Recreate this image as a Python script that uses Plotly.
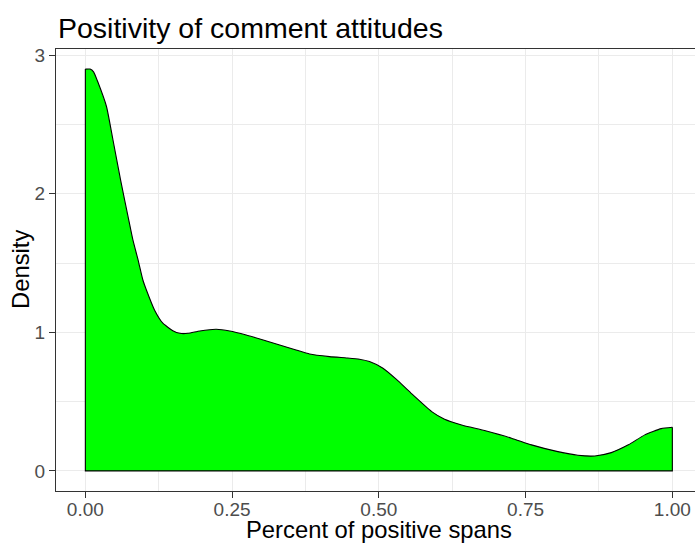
import plotly.graph_objects as go

# Density estimate of "percent of positive spans"
x_vals = [0.0, 0.008, 0.014, 0.021, 0.036, 0.047, 0.06, 0.074, 0.081, 0.09, 0.098, 0.104,
          0.118, 0.132, 0.149, 0.161, 0.175, 0.195, 0.223, 0.246, 0.274, 0.303, 0.331,
          0.359, 0.382, 0.416, 0.445, 0.467, 0.484, 0.507, 0.53, 0.555, 0.59, 0.612,
          0.641, 0.68, 0.726, 0.76, 0.805, 0.839, 0.868, 0.896, 0.925, 0.953, 0.981, 1.0]
density_vals = [2.9, 2.9, 2.88, 2.81, 2.63, 2.39, 2.10, 1.81, 1.667, 1.52, 1.378, 1.306,
                1.16, 1.066, 1.012, 0.993, 0.993, 1.01, 1.022, 1.01, 0.981, 0.945, 0.909,
                0.873, 0.844, 0.825, 0.815, 0.806, 0.789, 0.741, 0.66, 0.56, 0.428, 0.373,
                0.332, 0.291, 0.236, 0.188, 0.139, 0.113, 0.108, 0.132, 0.188, 0.26, 0.305, 0.315]

x_ticks = [0.0, 0.25, 0.5, 0.75, 1.0]
x_tick_labels = ["0.00", "0.25", "0.50", "0.75", "1.00"]
y_ticks = [0, 1, 2, 3]
y_tick_labels = ["0", "1", "2", "3"]

title_text = "Positivity of comment attitudes"
x_title = "Percent of positive spans"
y_title = "Density"

FONT = "Liberation Sans, Arial, sans-serif"

fig = go.Figure()
# filled density curve (smoothed)
fig.add_trace(go.Scatter(
    x=x_vals, y=density_vals, mode="lines", fill="tozeroy",
    fillcolor="#00FF00",
    line=dict(color="#000000", width=1.1, shape="spline", smoothing=0.5),
    hoverinfo="skip", showlegend=False,
))
# polygon sides and base outline
fig.add_trace(go.Scatter(
    x=[x_vals[0], x_vals[0], x_vals[-1], x_vals[-1]],
    y=[density_vals[0], 0, 0, density_vals[-1]],
    mode="lines", line=dict(color="#000000", width=1.1),
    hoverinfo="skip", showlegend=False,
))

W, H = 695, 543
L, R, T, B = 56, 0, 49, 52
plot_h = H - T - B

px_per_unit = 587.0
xmin = -0.05
xmax = xmin + (W - L - R) / px_per_unit

fig.update_layout(
    width=W, height=H,
    margin=dict(l=L, r=R, t=T, b=B, autoexpand=False),
    paper_bgcolor="white", plot_bgcolor="white",
    font=dict(family=FONT, color="#4D4D4D"),
    showlegend=False,
    xaxis=dict(
        range=[xmin, xmax], tickvals=x_ticks, ticktext=x_tick_labels,
        automargin=False,
        showgrid=True, gridcolor="#EBEBEB", gridwidth=1.2,
        minor=dict(tickvals=[0.125, 0.375, 0.625, 0.875], showgrid=True,
                   gridcolor="#EBEBEB", gridwidth=0.6, ticks=""),
        showline=True, mirror=True, linecolor="#333333", linewidth=1.2,
        ticks="outside", ticklen=6, tickwidth=1.2, tickcolor="#333333",
        ticklabelstandoff=-5,
        tickfont=dict(size=19, color="#4D4D4D", family=FONT),
        zeroline=False, fixedrange=True,
    ),
    yaxis=dict(
        range=[-0.145, 3.045], tickvals=y_ticks, ticktext=y_tick_labels,
        automargin=False,
        showgrid=True, gridcolor="#EBEBEB", gridwidth=1.2,
        minor=dict(tickvals=[0.5, 1.5, 2.5], showgrid=True,
                   gridcolor="#EBEBEB", gridwidth=0.6, ticks=""),
        showline=True, mirror=False, linecolor="#333333", linewidth=1.2,
        ticks="outside", ticklen=6, tickwidth=1.2, tickcolor="#333333",
        tickfont=dict(size=19, color="#4D4D4D", family=FONT),
        zeroline=False, fixedrange=True,
    ),
    annotations=[
        dict(text=title_text, xref="paper", yref="paper", x=0, xanchor="left",
             y=1 + (49.3 - 28) / plot_h, yanchor="middle", showarrow=False,
             font=dict(size=28.5, color="#000000", family=FONT)),
        dict(text=x_title, xref="x", yref="paper", x=0.5, xanchor="center",
             y=-(529 - 491) / plot_h, yanchor="middle", showarrow=False,
             font=dict(size=23.8, color="#000000", family=FONT)),
        dict(text=y_title, xref="paper", yref="y", x=(20 - L) / (W - L - R),
             xanchor="center", y=1.45, yanchor="middle", textangle=-90,
             showarrow=False, font=dict(size=23.8, color="#000000", family=FONT)),
    ],
)

fig.write_html("out.html", config={"displayModeBar": False},
               post_script="document.body.style.margin='0';document.body.style.overflow='hidden';")
